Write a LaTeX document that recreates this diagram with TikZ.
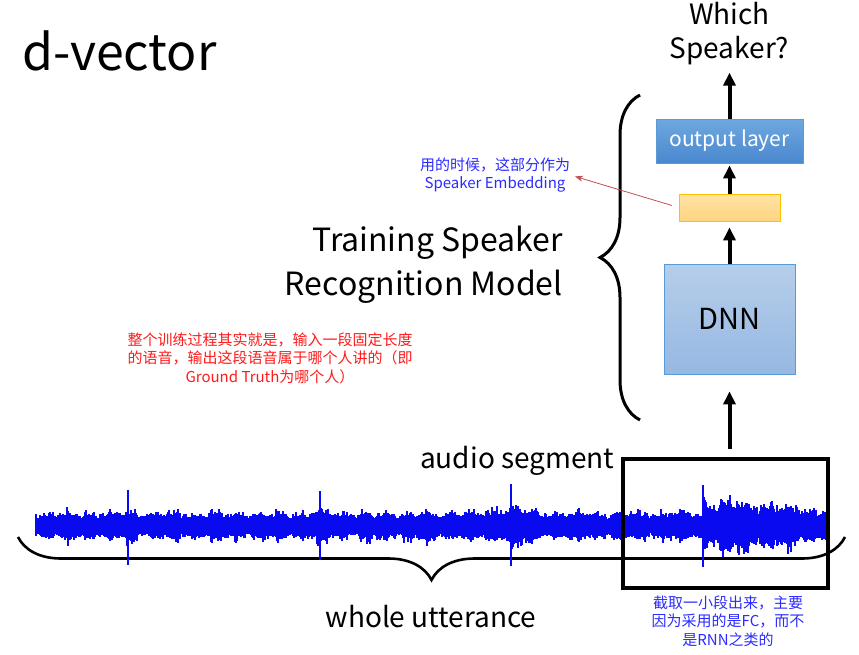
\documentclass[tikz,border=0pt]{standalone}
\usepackage{fontspec}
\setmainfont{Noto Sans CJK SC}
\usepackage{tikz}
\usetikzlibrary{arrows.meta,decorations.pathreplacing,positioning}

\definecolor{outtop}{HTML}{6EA8DF}
\definecolor{outbot}{HTML}{4A88CF}
\definecolor{outline}{HTML}{5B9BD5}
\definecolor{embtop}{HTML}{FFE3A6}
\definecolor{embbot}{HTML}{FFD47F}
\definecolor{embline}{HTML}{FFC000}
\definecolor{dnntop}{HTML}{B6CEEA}
\definecolor{dnnbot}{HTML}{96B8E2}
\definecolor{notered}{HTML}{FF1A1A}
\definecolor{noteblue}{HTML}{2B2BFF}
\definecolor{wavecol}{HTML}{0A0AF0}
\definecolor{pointer}{HTML}{C0504D}
\newcommand\setsz[2]{\fontsize{#1}{#2}\selectfont}

\begin{document}
\begin{tikzpicture}[x=1pt,y=-1pt]
  \useasboundingbox (0,0) rectangle (859,654);

  \tikzstyle{flow}=[-{Triangle[length=13pt,width=12pt]},line width=4pt,black]
  \tikzstyle{layer}=[draw,line width=0.8pt,inner sep=0pt]
  \tikzstyle{brace}=[decorate,line width=3pt,black]
  \tikzstyle{wave}=[line width=1.3pt,wavecol]
  \tikzstyle{note}=[align=center,inner sep=0pt,font=\setsz{15}{18.5}]

  % le titre
  \node[anchor=base west,inner sep=0pt,font=\setsz{50}{56}] (title) at (22,70) {d-vector};

  % le reseau
  \node[layer,draw=outline,top color=outtop,bottom color=outbot,text=white,
        minimum width=147pt,minimum height=44pt,font=\setsz{21}{24}] (out) at (729.5,141) {output layer};
  \node[layer,draw=embline,top color=embtop,bottom color=embbot,
        minimum width=101pt,minimum height=27pt] (emb) at (729.5,207.5) {};
  \node[layer,draw=outline,top color=dnntop,bottom color=dnnbot,
        minimum width=131pt,minimum height=110pt,font=\setsz{29}{34}] (dnn) at (729.5,319) {DNN};
  \node[anchor=base,align=center,inner sep=0pt,font=\setsz{28}{34}] (which) at (729.5,58) {Which\\Speaker?};

  \path (dnn.north) edge[flow,shorten >=6pt] (emb.south)
        (emb.north) edge[flow,shorten >=2pt] (out.south)
        (out.north) edge[flow,shorten >=8pt] (which.south);

  \draw[brace,decoration={brace,amplitude=40pt,aspect=0.5}] (640,420) -- (640,95);
  \node[anchor=base east,align=right,inner sep=0pt,font=\setsz{32}{44}] (task) at (563,295)
    {Training Speaker\\Recognition Model};

  % la forme d'onde
  \draw[brace,line width=2.6pt,decoration={brace,amplitude=43pt,aspect=0.5}] (845,537) -- (18,537);
  \pgfmathsetseed{11}
  \foreach \x in {36,...,826}{
    \pgfmathsetmacro\amp{(16+9*max(0,1-abs(\x-511)/28)+3*max(0,1-abs(\x-128)/12)
      +3*max(0,1-abs(\x-320)/12)+(\x>702)*min(13,13*(1-(\x-745)/110)))
      *(1+0.14*sin(17*\x)+0.1*sin(43*mod(\x,360)+30)+0.08*sin(7*\x))}
    \pgfmathsetmacro\up{526-\amp*(0.6+0.4*rnd*rnd)}
    \pgfmathsetmacro\dn{526+\amp*(0.6+0.4*rnd*rnd)}
    \draw[wave] (\x,\up) -- (\x,\dn);
  }
  \foreach \x/\a/\b in {128/490/565, 320/491/560, 511/484/566, 703/485/567}{
    \draw[wave,line width=1.6pt] (\x,\a) -- (\x,\b);
  }

  \node[draw,line width=4pt,minimum width=205pt,minimum height=129pt,inner sep=0pt] (seg) at (725.5,523.5) {};
  \path (dnn.south |- seg.north) edge[flow,shorten <=8pt,shorten >=17pt] (dnn.south);

  \node[anchor=base west,inner sep=0pt,font=\setsz{28}{34}] (audio) at (420,468) {audio segment};
  \node[anchor=base,inner sep=0pt,font=\setsz{28}{34}] (whole) at (431,627) {whole utterance};

  % les remarques
  \node[note,text=noteblue] (embnote) at (495,175) {用的时候，这部分作为\\Speaker Embedding};
  \path (emb.west) edge[-{Stealth[length=8pt,width=6pt]},pointer,line width=0.8pt,
        shorten <=7pt,shorten >=5pt] (embnote.east);
  \node[note,text=notered] (trainnote) at (270,358) {整个训练过程其实就是，输入一段固定长度\\的语音，输出这段语音属于哪个人讲的（即\\Ground Truth为哪个人）};
  \node[note,text=noteblue] (segnote) at (728,621) {截取一小段出来，主要\\因为采用的是FC，而不\\是RNN之类的};
\end{tikzpicture}
\end{document}
